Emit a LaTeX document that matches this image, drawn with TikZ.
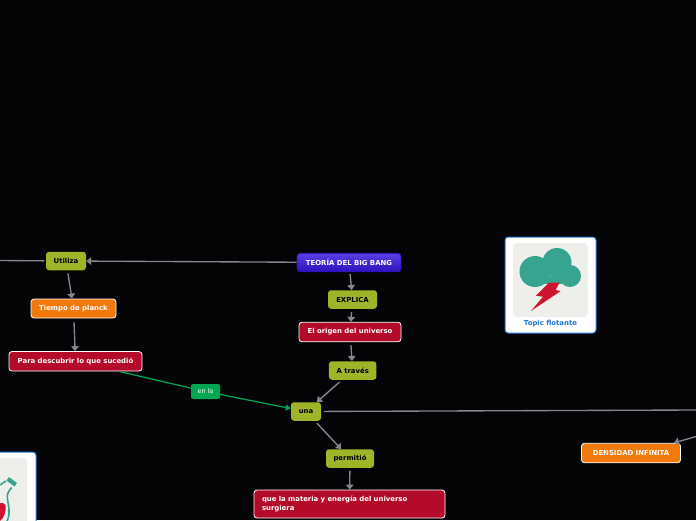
\documentclass[tikz,border=0pt]{standalone}
\usepackage{fontspec}
\setmainfont{DejaVu Sans}
\usetikzlibrary{arrows.meta,calc}
\definecolor{bgc}{HTML}{030406}
\definecolor{olivec}{HTML}{A0B42A}
\definecolor{orangec}{HTML}{F27A0C}
\definecolor{redc}{HTML}{B50B2A}
\definecolor{boltc}{HTML}{CE1530}
\definecolor{bluetop}{HTML}{5C3EE6}
\definecolor{bluebot}{HTML}{2C12BE}
\definecolor{linec}{HTML}{85868A}
\definecolor{greenc}{HTML}{00A651}
\definecolor{framec}{HTML}{1E78D8}
\definecolor{tealc}{HTML}{36A48F}
\definecolor{paperc}{HTML}{EEEEEA}
\tikzset{
 x=1pt,y=-1pt,
 box/.style={rounded corners=3pt,inner sep=0pt,anchor=center,font=\bfseries\fontsize{6.9}{8}\selectfont},
 olivebox/.style={box,fill=olivec,text=black},
 orangebox/.style={box,fill=orangec,draw=white,line width=.8pt,text=white},
 redbox/.style={box,fill=redc,draw=white,line width=.8pt,text=white},
 bluebox/.style={box,top color=bluetop,bottom color=bluebot,draw=bluebot,line width=.7pt,text=white},
 greenbox/.style={rounded corners=2pt,inner sep=0pt,fill=greenc,text=white,font=\fontsize{6.4}{8}\selectfont},
 conn/.style={draw=linec,line width=1.35pt,-{Triangle[length=5pt,width=7.5pt]}},
 plainconn/.style={draw=linec,line width=1.35pt},
 gconn/.style={draw=greenc,line width=1.25pt},
 floatbox/.style={rounded corners=3pt,fill=white,draw=framec,line width=1pt},
 imgbox/.style={rounded corners=4pt,fill=paperc},
}
\newcommand{\boxnode}[6]{\node[#1,minimum width=#4pt,minimum height=#5pt] (#2) at (#3) {#6};}
\begin{document}
\begin{tikzpicture}
\useasboundingbox (0,0) rectangle (696,520);
\clip (0,0) rectangle (696,520);
\fill[bgc] (0,0) rectangle (696,520);

\boxnode{olivebox}{util}{66,261}{40}{18.5}{Utiliza}
\boxnode{orangebox}{tiempo}{73.5,308.5}{85}{19}{Tiempo de planck}
\boxnode{redbox}{para}{75.5,361.3}{133}{19.5}{Para descubrir lo que sucedió}
\boxnode{bluebox}{teoria}{349,262.5}{104}{18.5}{TEORÍA DEL BIG BANG}
\boxnode{olivebox}{explica}{352.5,299.5}{49}{18.5}{EXPLICA}
\boxnode{redbox}{origen}{350,332}{102}{19.5}{El origen del universo}
\boxnode{olivebox}{atraves}{352.7,370.5}{47.5}{18.5}{A través}
\boxnode{olivebox}{una}{306,411.5}{30}{18.5}{una}
\boxnode{olivebox}{permitio}{350,458.5}{48}{18.5}{permitió}
\node[redbox,minimum width=191pt,minimum height=28pt,align=left,text width=175pt,inner xsep=8pt,font=\bfseries\fontsize{6.9}{9.2}\selectfont] (que) at (349.5,504) {que la materia y energía del universo\\surgiera};
\boxnode{orangebox}{densidad}{631,453}{99}{19.5}{DENSIDAD INFINITA}
\node[greenbox,minimum width=29pt,minimum height=15pt] (enla) at (205.5,391.5) {en la};

\coordinate (leftend) at (0,260.5);
\coordinate (rightend) at (696,410);
\coordinate (densend) at (696,436.5);
\coordinate (denstip) at ($(densidad.north east)+(-7,0)$);

\draw[conn] (teoria) -- (util);
\draw[plainconn,shorten <=1.5pt] (util) -- (leftend);
\draw[conn,shorten <=3pt] (util) -- (tiempo);
\draw[conn,shorten <=4pt] (tiempo) -- (para);
\draw[conn,shorten <=2pt] (teoria) -- (explica);
\draw[conn,shorten <=3pt] (explica) -- (origen);
\draw[conn,shorten <=3pt] (origen) -- (atraves);
\draw[conn,shorten <=3pt] (atraves) -- (una);
\draw[conn,shorten <=3pt] (una) -- (permitio);
\draw[conn,shorten <=3pt] (permitio) -- (que);
\draw[plainconn,shorten <=3pt] (una) -- (rightend);
\draw[conn] (densend) -- (denstip);
\draw[gconn] (para) -- (enla);
\draw[gconn,-{Triangle[length=5pt,width=6pt]}] (enla) -- (una);

% floating topic
\node[floatbox,minimum width=91pt,minimum height=96pt,inner sep=0pt] (topic) at (550.5,285) {};
\node[imgbox,minimum width=75pt,minimum height=74pt,inner sep=0pt] (topicimg) at (550.5,280) {};
\node[text=framec,font=\bfseries\fontsize{6.9}{8}\selectfont] (topiclabel) at (550.5,323.5) {Topic flotante};
\fill[tealc] (535,271.5) circle (15.5) (557,262.5) circle (14.5) (570,276) circle (11);
\fill[tealc] (530,276) rectangle (568,283.5);
\fill[boltc] (549,282.5) -- (559.5,282.5) -- (555.7,290) -- (560.7,291) -- (531,311) -- (543,296.7) -- (536,295.7) -- cycle;

% floating flask, mostly off the page
\node[floatbox,minimum width=72pt,minimum height=96pt,inner sep=0pt] (flaskbox) at (0,500) {};
\node[imgbox,minimum width=54pt,minimum height=74pt,inner sep=0pt] (flaskimg) at (0,495) {};
\fill[boltc] (-1,504) .. controls (2,502) and (4,503) .. (5.5,505) .. controls (6.5,511) and (4,518) .. (0,521) -- (-1,521) -- cycle;
\draw[tealc,line width=1.6pt] (0,485) -- (6,481);
\draw[tealc,line width=1.6pt] (11.7,487.5) .. controls (8.5,491) and (7,494) .. (7.3,498) .. controls (8,503) and (9.5,508) .. (9,514) .. controls (8.7,517) and (8,519) .. (7,521);
\fill[tealc] (9,477) -- (17,483) -- (14.5,486.5) -- (6.5,480.5) -- cycle;
\end{tikzpicture}
\end{document}
